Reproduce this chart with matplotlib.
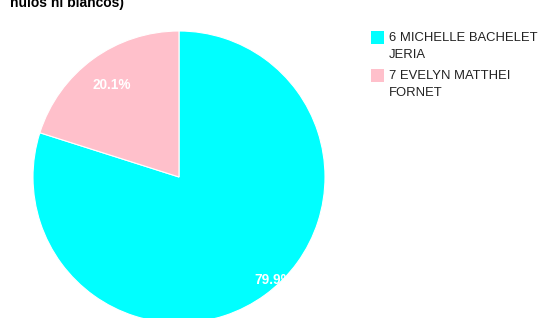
import numpy as np
import matplotlib.pyplot as plt
from matplotlib.patches import Rectangle

plt.rcParams['font.family'] = ['Liberation Sans', 'DejaVu Sans']

# ---- data ----
candidates = ['6 MICHELLE BACHELET\nJERIA', '7 EVELYN MATTHEI\nFORNET']
shares = [79.9, 20.1]
colors = ['#00FFFF', '#FFC0CB']
title_tail = 'nulos ni blancos)'

W, H = 558, 318
fig = plt.figure(figsize=(W / 100, H / 100), dpi=100)

# pie area: centre (179, 177) px, radius 146 px
cx, cy, r = 179, 177, 146
ax = fig.add_axes([(cx - r) / W, (H - cy - r) / H, 2 * r / W, 2 * r / H])
wedges, _, autotexts = ax.pie(
    shares, colors=colors, startangle=90, counterclock=False,
    autopct='%.1f%%', pctdistance=0.78,
    wedgeprops=dict(edgecolor='white', linewidth=0.8),
    textprops=dict(color='white', fontsize=9.8, fontweight='bold'))
ax.set_xlim(-1, 1)
ax.set_ylim(-1, 1)
ax.set_aspect('auto')

# bigger slice label sits further out, a bit towards the slice's end
w = wedges[0]
mid = np.deg2rad((w.theta1 + w.theta2) / 2 + 6.5)
autotexts[0].set_position((0.96 * np.cos(mid), 0.96 * np.sin(mid)))

# title (first line falls above the canvas)
fig.text(10 / W, 1 - 7 / H, title_tail, fontsize=10, fontweight='bold',
         ha='left', va='baseline')

# legend
for i, (lab, col) in enumerate(zip(candidates, colors)):
    top = 31 + i * 38
    fig.patches.append(Rectangle((371 / W, 1 - (top + 13) / H), 13 / W, 13 / H,
                                 transform=fig.transFigure, facecolor=col,
                                 edgecolor='none'))
    fig.text(389 / W, 1 - (top + 1) / H, lab, fontsize=9.4, color='#222222',
             ha='left', va='top', linespacing=1.6)

fig.savefig('out.png', dpi=100)
